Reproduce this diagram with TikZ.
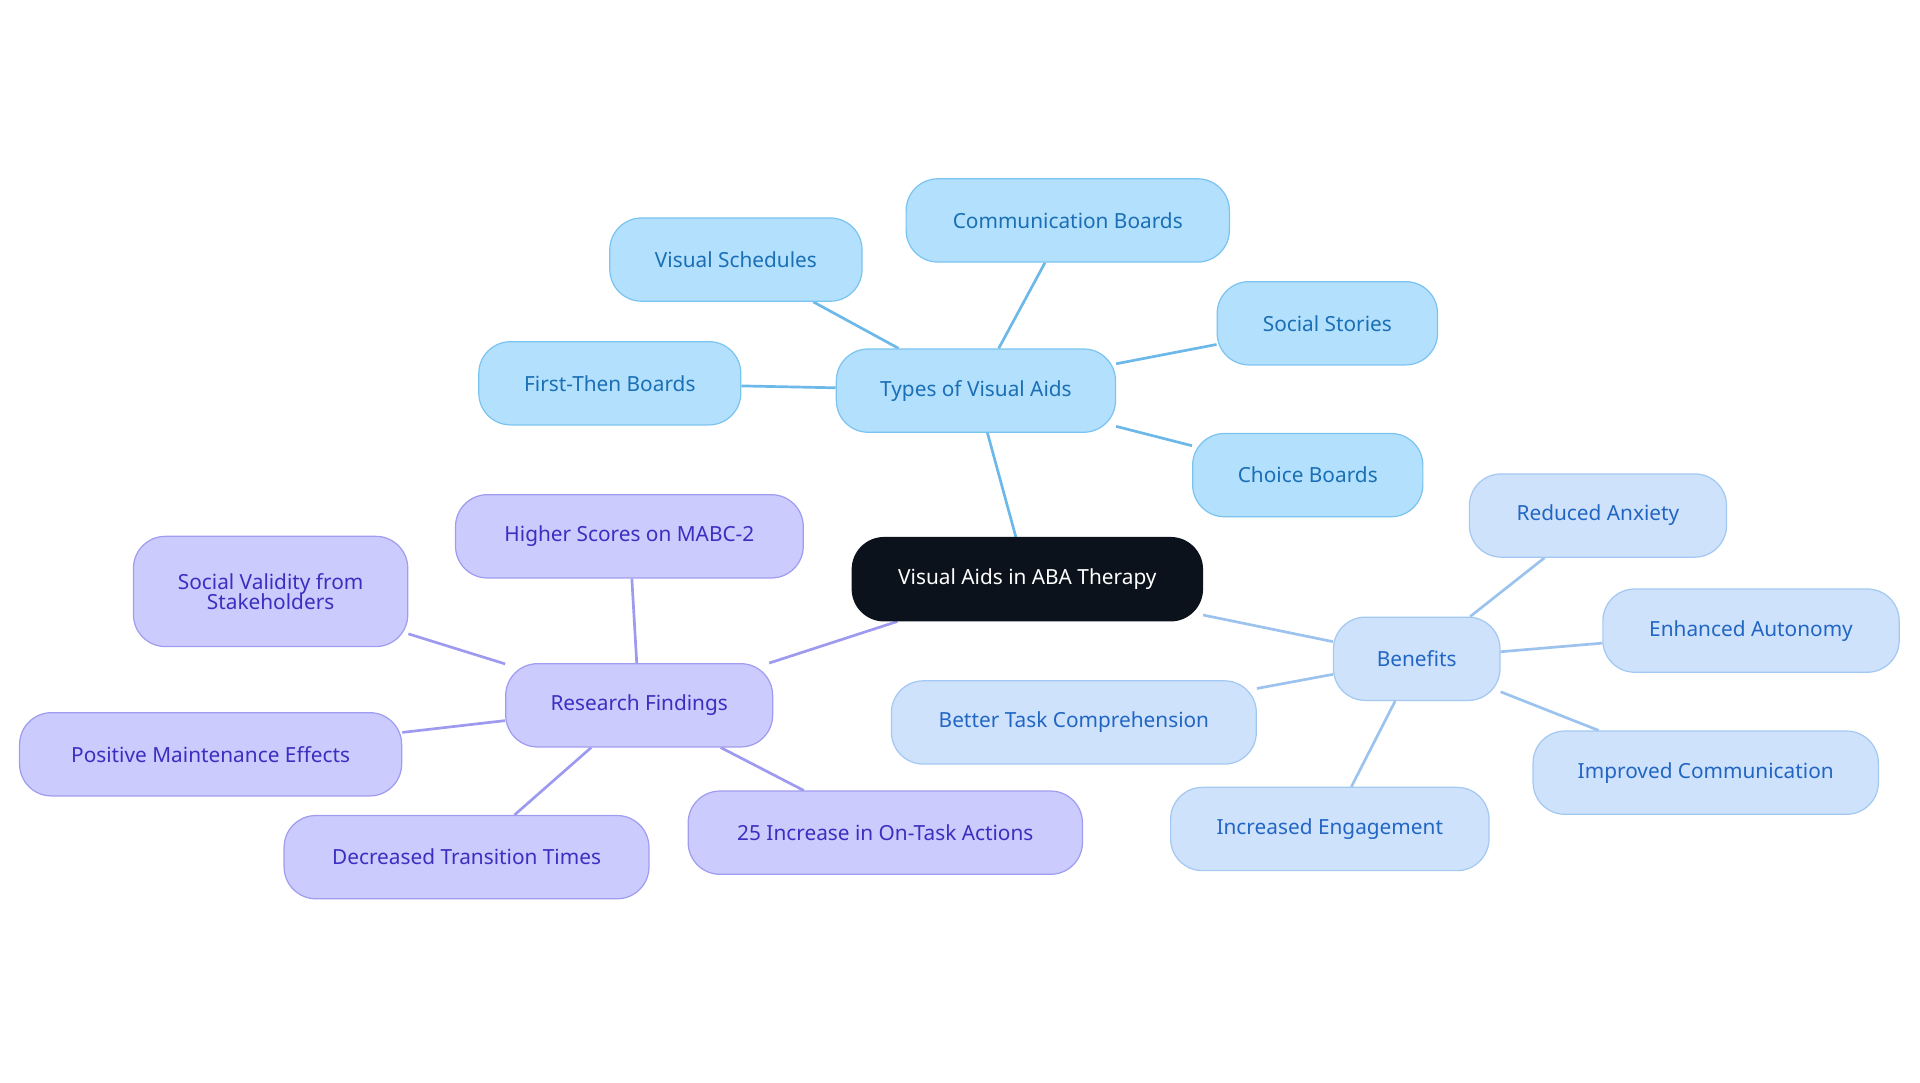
\documentclass[tikz,border=0pt]{standalone}
\usepackage{fontspec}
\setmainfont{Noto Sans}
\usetikzlibrary{backgrounds}
\definecolor{rootc}{RGB}{11,18,27}
\definecolor{tfill}{RGB}{179,224,252}
\definecolor{tdraw}{RGB}{124,196,240}
\definecolor{ttext}{RGB}{26,111,181}
\definecolor{tline}{RGB}{108,184,232}
\definecolor{bfill}{RGB}{207,226,251}
\definecolor{bdraw}{RGB}{163,200,242}
\definecolor{btext}{RGB}{34,102,196}
\definecolor{bline}{RGB}{156,195,238}
\definecolor{rfill}{RGB}{203,203,253}
\definecolor{rdraw}{RGB}{160,156,240}
\definecolor{rtext}{RGB}{59,47,192}
\definecolor{rline}{RGB}{157,154,239}
\begin{document}
\begin{tikzpicture}[x=1pt,y=-1pt,
 base/.style={rounded corners=26pt,minimum height=68pt,line width=1pt,font=\fontsize{17}{19}\selectfont,align=center,inner sep=0pt},
 root/.style={base,fill=rootc,draw=rootc,text=white},
 tnode/.style={base,fill=tfill,draw=tdraw,text=ttext},
 bnode/.style={base,fill=bfill,draw=bdraw,text=btext},
 rnode/.style={base,fill=rfill,draw=rdraw,text=rtext},
 tedge/.style={draw=tline,line width=2.2pt},
 bedge/.style={draw=bline,line width=2.2pt},
 redge/.style={draw=rline,line width=2.2pt}]
\useasboundingbox (0,0) rectangle (1568,884);
\node[root,minimum width=286pt] (c) at (839,473) {Visual Aids in ABA Therapy};
\node[tnode,minimum width=228pt] (t) at (797,319) {Types of Visual Aids};
\node[tnode,minimum width=206pt] (t1) at (601,212) {Visual Schedules};
\node[tnode,minimum width=264pt] (t2) at (872,180) {Communication Boards};
\node[tnode,minimum width=180pt] (t3) at (1084,264) {Social Stories};
\node[tnode,minimum width=214pt] (t4) at (498,313) {First-Then Boards};
\node[tnode,minimum width=188pt] (t5) at (1068,388) {Choice Boards};
\node[bnode,minimum width=136pt] (b) at (1157,538) {Benefits};
\node[bnode,minimum width=210pt] (b1) at (1305,421) {Reduced Anxiety};
\node[bnode,minimum width=242pt] (b2) at (1430,515) {Enhanced Autonomy};
\node[bnode,minimum width=282pt] (b3) at (1393,631) {Improved Communication};
\node[bnode,minimum width=260pt] (b4) at (1086,677) {Increased Engagement};
\node[bnode,minimum width=298pt] (b5) at (877,590) {Better Task Comprehension};
\node[rnode,minimum width=218pt] (r) at (522,576) {Research Findings};
\node[rnode,minimum width=284pt] (r1) at (514,438) {Higher Scores on MABC-2};
\node[rnode,minimum width=224pt,minimum height=90pt] (r2) at (221,483) {Social Validity from\\[-3pt]Stakeholders};
\node[rnode,minimum width=312pt] (r3) at (172,616) {Positive Maintenance Effects};
\node[rnode,minimum width=298pt] (r4) at (381,700) {Decreased Transition Times};
\node[rnode,minimum width=322pt] (r5) at (723,680) {25 Increase in On-Task Actions};
\begin{scope}[on background layer]
\path[tedge] (c) -- (t);
\path[tedge] (t) -- (t1);
\path[tedge] (t) -- (t2);
\path[tedge] (t) -- (t3);
\path[tedge] (t) -- (t4);
\path[tedge] (t) -- (t5);
\path[bedge] (c) -- (b);
\path[bedge] (b) -- (b1);
\path[bedge] (b) -- (b2);
\path[bedge] (b) -- (b3);
\path[bedge] (b) -- (b4);
\path[bedge] (b) -- (b5);
\path[redge] (c) -- (r);
\path[redge] (r) -- (r1);
\path[redge] (r) -- (r2);
\path[redge] (r) -- (r3);
\path[redge] (r) -- (r4);
\path[redge] (r) -- (r5);
\end{scope}
\end{tikzpicture}
\end{document}
